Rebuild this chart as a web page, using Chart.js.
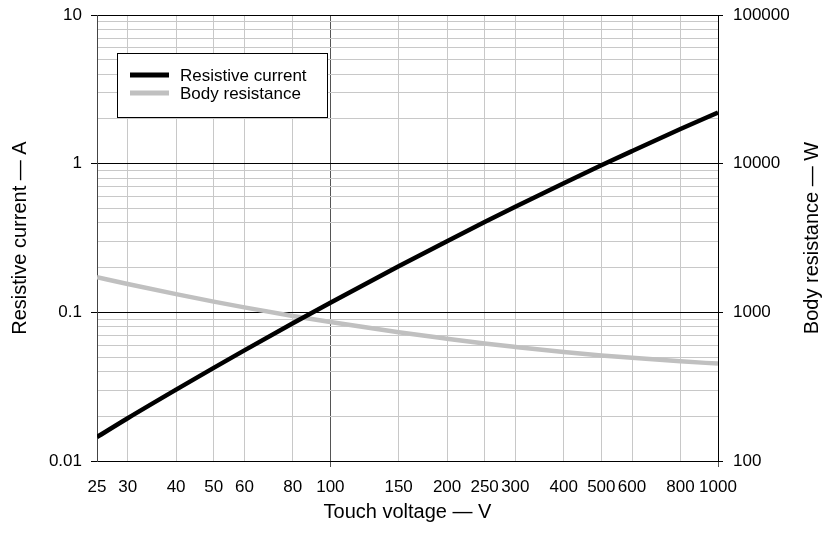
<!DOCTYPE html>
<html>
<head>
    <title>Touch voltage chart</title>
    <script src="https://cdn.jsdelivr.net/npm/chart.js"></script>
    <style>
        html, body { margin: 0; padding: 0; background: #fff; }
        #wrap { width: 830px; height: 535px; }
    </style>
</head>
<body>
    <div id="wrap"><canvas id="touchChart" width="830" height="535"></canvas></div>
    <script>
        // values
        const voltages = [25, 30, 40, 50, 60, 80, 100, 150, 200, 250, 300, 400, 500, 600, 800, 1000];
        const resistiveCurrent = [0.0145, 0.0194, 0.0302, 0.0423, 0.0555, 0.0845, 0.116, 0.204, 0.301, 0.405, 0.513, 0.739, 0.975, 1.215, 1.71, 2.21];
        const bodyResistance = [1720, 1550, 1325, 1180, 1080, 945, 860, 735, 665, 617, 585, 541, 513, 494, 468, 452];

        const xTicks = [25, 30, 40, 50, 60, 80, 100, 150, 200, 250, 300, 400, 500, 600, 800, 1000];
        const currentTicks = [0.01, 0.02, 0.03, 0.04, 0.05, 0.06, 0.07, 0.08, 0.09,
                              0.1, 0.2, 0.3, 0.4, 0.5, 0.6, 0.7, 0.8, 0.9,
                              1, 2, 3, 4, 5, 6, 7, 8, 9, 10];
        const resistanceTicks = [100, 1000, 10000, 100000];

        const FONT = 'Liberation Sans, Arial, sans-serif';
        const LIGHT = '#c8c8c8';

        function isDecade(v) {
            const l = Math.log10(v);
            return Math.abs(l - Math.round(l)) < 1e-9;
        }

        function setTicks(list) {
            return function (scale) {
                scale.ticks = list.map(v => ({ value: v }));
            };
        }

        // fixed axis sizes so the plot area sits where it does in the picture
        function fixSize(w, h) {
            return function (scale) {
                if (w) scale.width = w;
                if (h) scale.height = h;
                scale.paddingTop = 0;
                scale.paddingBottom = 0;
                scale.paddingLeft = 0;
                scale.paddingRight = 0;
            };
        }

        // legend box and axis titles drawn inside the canvas
        const extras = {
            id: 'extras',
            afterDraw(chart) {
                const ctx = chart.ctx;
                const area = chart.chartArea;
                ctx.save();

                // legend
                const bx = area.left + 20, by = area.top + 38;
                ctx.fillStyle = '#fff';
                ctx.fillRect(bx, by, 210, 64);
                ctx.strokeStyle = '#000';
                ctx.lineWidth = 1;
                ctx.strokeRect(bx + 0.5, by + 0.5, 210, 64);
                ctx.font = '17px ' + FONT;
                ctx.textBaseline = 'middle';
                chart.data.datasets.forEach((ds, i) => {
                    const y = by + 22 + i * 18;
                    ctx.strokeStyle = ds.borderColor;
                    ctx.lineWidth = 5;
                    ctx.beginPath();
                    ctx.moveTo(bx + 13, y);
                    ctx.lineTo(bx + 52, y);
                    ctx.stroke();
                    ctx.fillStyle = '#000';
                    ctx.textAlign = 'left';
                    ctx.fillText(ds.label, bx + 63, y + 1);
                });

                // axis titles
                ctx.fillStyle = '#000';
                ctx.font = '20px ' + FONT;
                ctx.textAlign = 'center';
                ctx.textBaseline = 'middle';
                const midY = (area.top + area.bottom) / 2;
                ctx.fillText('Touch voltage \u2014 V', (area.left + area.right) / 2, 512);

                ctx.save();
                ctx.translate(20, midY);
                ctx.rotate(-Math.PI / 2);
                ctx.fillText('Resistive current \u2014 A', 0, 0);
                ctx.restore();

                ctx.save();
                ctx.translate(812, midY);
                ctx.rotate(-Math.PI / 2);
                ctx.fillText('Body resistance \u2014 W', 0, 0);
                ctx.restore();

                ctx.restore();
            }
        };

        const ctx = document.getElementById('touchChart').getContext('2d');
        const touchChart = new Chart(ctx, {
            type: 'line',
            data: {
                datasets: [{
                    label: 'Resistive current',
                    data: voltages.map((v, i) => ({ x: v, y: resistiveCurrent[i] })),
                    borderColor: '#000000',
                    borderWidth: 4.5,
                    yAxisID: 'y'
                }, {
                    label: 'Body resistance',
                    data: voltages.map((v, i) => ({ x: v, y: bodyResistance[i] })),
                    borderColor: '#c0c0c0',
                    borderWidth: 4.5,
                    yAxisID: 'y2'
                }]
            },
            options: {
                responsive: false,
                animation: false,
                layout: { padding: { top: 15, left: 0, right: 0, bottom: 0 } },
                elements: {
                    point: { radius: 0 },
                    line: { cubicInterpolationMode: 'monotone', borderCapStyle: 'butt' }
                },
                plugins: {
                    legend: { display: false },
                    tooltip: { enabled: false }
                },
                scales: {
                    x: {
                        type: 'logarithmic',
                        min: 25,
                        max: 1000,
                        afterBuildTicks: setTicks(xTicks),
                        afterFit: fixSize(0, 74),
                        ticks: {
                            autoSkip: false,
                            maxRotation: 0,
                            padding: 10,
                            color: '#000',
                            font: { family: FONT, size: 17 },
                            callback: v => String(v)
                        },
                        grid: {
                            tickLength: 6,
                            color: c => c.tick && c.tick.value === 100 ? '#555555' : LIGHT,
                            tickColor: c => c.tick && (c.tick.value === 100 || c.tick.value === 1000) ? '#555555' : 'rgba(0,0,0,0)'
                        },
                        border: { color: '#000', width: 1 }
                    },
                    y: {
                        type: 'logarithmic',
                        position: 'left',
                        min: 0.01,
                        max: 10,
                        afterBuildTicks: setTicks(currentTicks),
                        afterFit: fixSize(97, 0),
                        ticks: {
                            autoSkip: false,
                            padding: 9,
                            color: '#000',
                            font: { family: FONT, size: 17 },
                            callback: v => isDecade(v) ? String(v) : ''
                        },
                        grid: {
                            tickLength: 6,
                            color: c => c.tick && isDecade(c.tick.value) ? '#000000' : LIGHT,
                            tickColor: c => c.tick && isDecade(c.tick.value) ? '#000000' : 'rgba(0,0,0,0)'
                        },
                        border: { color: '#444', width: 1 }
                    },
                    y2: {
                        type: 'logarithmic',
                        position: 'right',
                        min: 100,
                        max: 100000,
                        afterBuildTicks: setTicks(resistanceTicks),
                        afterFit: fixSize(112, 0),
                        ticks: {
                            autoSkip: false,
                            padding: 10,
                            color: '#000',
                            font: { family: FONT, size: 17 },
                            callback: v => String(v)
                        },
                        grid: {
                            drawOnChartArea: false,
                            tickLength: 5,
                            tickColor: '#000'
                        },
                        border: { color: '#000', width: 1 }
                    }
                }
            },
            plugins: [extras]
        });
    </script>
</body>
</html>
